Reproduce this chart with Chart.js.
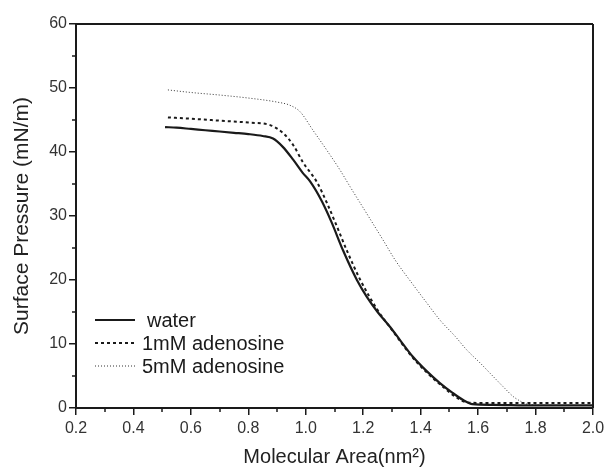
<!DOCTYPE html>
<html>
<head>
<meta charset="utf-8">
<script src="https://cdn.jsdelivr.net/npm/chart.js@4/dist/chart.umd.min.js"></script>
<style>
  html, body { margin: 0; padding: 0; background: #fff; }
  #wrap { width: 609px; height: 469px; }
</style>
</head>
<body>
<div id="wrap"><canvas id="isotherm" width="609" height="469"></canvas></div>
<script>
// isotherm curves
const waterX = [0.51, 0.55, 0.6, 0.65, 0.7, 0.75, 0.8, 0.85, 0.886, 0.92, 0.956, 0.99, 1.015, 1.056, 1.09, 1.13, 1.178, 1.212, 1.25, 1.293, 1.33, 1.373, 1.42, 1.467, 1.51, 1.548, 1.58, 1.65, 1.8, 2.0];
const waterY = [43.9, 43.8, 43.6, 43.4, 43.2, 43.0, 42.8, 42.5, 42.1, 40.8, 38.8, 36.7, 35.4, 32.3, 29.0, 24.6, 20.0, 17.4, 15.0, 12.7, 10.5, 8.0, 5.8, 3.9, 2.4, 1.25, 0.6, 0.5, 0.4, 0.4];

const adeno1X = [0.52, 0.6, 0.7, 0.8, 0.876, 0.92, 0.956, 0.99, 1.04, 1.074, 1.109, 1.144, 1.19, 1.25, 1.3, 1.37, 1.42, 1.47, 1.52, 1.56, 1.6, 1.8, 2.0];
const adeno1Y = [45.4, 45.2, 44.9, 44.6, 44.2, 43.0, 41.1, 38.4, 35.2, 32.0, 28.3, 24.5, 20.0, 15.3, 12.2, 8.0, 5.6, 3.6, 1.8, 0.9, 0.8, 0.8, 0.8];

const adeno5X = [0.52, 0.6, 0.7, 0.806, 0.9, 0.945, 0.98, 1.025, 1.073, 1.119, 1.154, 1.212, 1.269, 1.31, 1.373, 1.42, 1.467, 1.52, 1.56, 1.61, 1.653, 1.69, 1.722, 1.75, 1.77, 1.85, 2.0];
const adeno5Y = [49.7, 49.3, 48.9, 48.4, 47.8, 47.3, 46.3, 43.4, 40.3, 37.2, 34.6, 30.4, 26.25, 23.2, 19.3, 16.5, 13.75, 11.2, 9.1, 6.9, 4.9, 3.2, 1.8, 1.0, 0.6, 0.4, 0.4];

const seriesLabels = ['water', '1mM adenosine', '5mM adenosine'];

const toPts = (xs, ys) => xs.map((x, i) => ({ x: x, y: ys[i] }));
const FONT = "'Liberation Sans', Arial, sans-serif";

// short minor ticks, frame on top/right, legend inside the plot
const framePlugin = {
  id: 'frame',
  afterDraw(chart) {
    const { ctx, chartArea: a, scales } = chart;
    ctx.save();
    ctx.strokeStyle = '#1a1a1a';
    ctx.lineWidth = 2;
    ctx.beginPath();
    ctx.moveTo(a.left, a.top); ctx.lineTo(a.right, a.top);
    ctx.moveTo(a.right, a.top); ctx.lineTo(a.right, a.bottom);
    ctx.stroke();
    ctx.lineWidth = 1.5;
    ctx.beginPath();
    scales.x.ticks.forEach(t => {
      if (Math.round(t.value * 10) % 2 !== 0) {
        const px = Math.round(scales.x.getPixelForValue(t.value));
        ctx.moveTo(px, a.bottom); ctx.lineTo(px, a.bottom + 4);
      }
    });
    scales.y.ticks.forEach(t => {
      if (Math.round(t.value) % 10 !== 0) {
        const py = Math.round(scales.y.getPixelForValue(t.value));
        ctx.moveTo(a.left, py); ctx.lineTo(a.left - 4, py);
      }
    });
    ctx.stroke();

    const ds = chart.data.datasets;
    const rows = [320, 343, 366];
    ctx.font = '20px ' + FONT;
    ctx.fillStyle = '#1a1a1a';
    ctx.textBaseline = 'middle';
    ds.forEach((d, i) => {
      ctx.strokeStyle = d.borderColor;
      ctx.lineWidth = d.borderWidth;
      ctx.setLineDash(d.borderDash || []);
      ctx.beginPath();
      ctx.moveTo(95, rows[i]); ctx.lineTo(135, rows[i]);
      ctx.stroke();
      ctx.setLineDash([]);
      ctx.fillText(d.label, i === 0 ? 147 : 142, rows[i] + 1);
    });
    ctx.restore();
  }
};

new Chart(document.getElementById('isotherm'), {
  type: 'line',
  data: {
    datasets: [
      { label: seriesLabels[0], data: toPts(waterX, waterY), borderColor: '#1a1a1a', borderWidth: 2.2, pointRadius: 0, cubicInterpolationMode: 'monotone' },
      { label: seriesLabels[1], data: toPts(adeno1X, adeno1Y), borderColor: '#1a1a1a', borderWidth: 2, borderDash: [3, 3], pointRadius: 0, cubicInterpolationMode: 'monotone' },
      { label: seriesLabels[2], data: toPts(adeno5X, adeno5Y), borderColor: '#333', borderWidth: 1, borderDash: [1, 2], pointRadius: 0, cubicInterpolationMode: 'monotone' }
    ]
  },
  options: {
    responsive: false,
    animation: false,
    layout: { padding: { top: 24, right: 16, left: 0, bottom: 0 } },
    plugins: { legend: { display: false }, tooltip: { enabled: false } },
    scales: {
      x: {
        type: 'linear',
        min: 0.2, max: 2.0,
        afterFit: s => { s.height = 61; },
        border: { display: true, color: '#1a1a1a', width: 2 },
        grid: {
          drawOnChartArea: false,
          tickLength: 7,
          lineWidth: 1.5,
          tickColor: c => (Math.round(c.tick.value * 10) % 2 === 0 ? '#1a1a1a' : 'rgba(0,0,0,0)')
        },
        ticks: {
          stepSize: 0.1,
          padding: 4,
          color: '#333',
          font: { family: FONT, size: 16 },
          maxRotation: 0,
          autoSkip: false,
          callback: v => (Math.round(v * 10) % 2 === 0 ? (Math.round(v * 10) / 10).toFixed(1) : '')
        },
        title: {
          display: true,
          text: 'Molecular Area(nm²)',
          color: '#222',
          font: { family: FONT, size: 20 },
          padding: { top: 7, bottom: 0 }
        }
      },
      y: {
        min: 0, max: 60,
        afterFit: s => { s.width = 76; },
        border: { display: true, color: '#1a1a1a', width: 2 },
        grid: {
          drawOnChartArea: false,
          tickLength: 7,
          lineWidth: 1.5,
          tickColor: c => (Math.round(c.tick.value) % 10 === 0 ? '#1a1a1a' : 'rgba(0,0,0,0)')
        },
        ticks: {
          stepSize: 5,
          padding: 2,
          color: '#333',
          font: { family: FONT, size: 16 },
          autoSkip: false,
          callback: v => (Math.round(v) % 10 === 0 ? String(v) : '')
        },
        title: {
          display: true,
          text: 'Surface Pressure (mN/m)',
          color: '#222',
          font: { family: FONT, size: 21 },
          padding: { top: 10, bottom: 0 }
        }
      }
    }
  },
  plugins: [framePlugin]
});
</script>
</body>
</html>
